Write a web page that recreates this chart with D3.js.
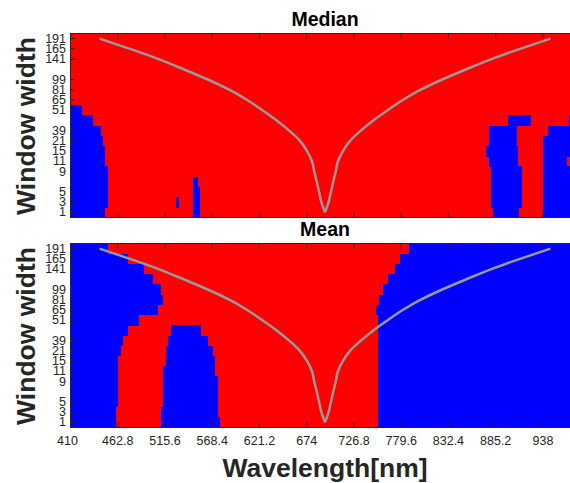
<!DOCTYPE html>
<html>
<head>
<meta charset="utf-8">
<script src="https://cdn.jsdelivr.net/npm/d3@7/dist/d3.min.js"></script>
<style>
  html, body { margin: 0; padding: 0; background: #fff; }
  svg { display: block; }
  text { font-family: "Liberation Sans", Arial, Helvetica, sans-serif; }
</style>
</head>
<body>
<svg id="chart" width="570" height="483"></svg>
<script>
// ---------------- data ----------------
const wavelengthTicks = [410, 462.8, 515.6, 568.4, 621.2, 674, 726.8, 779.6, 832.4, 885.2, 938];
const wavelengthDomain = [410, 980];
// rows from bottom (index 0) to top (index 17); "" = row without a tick
const rowLabels = ["1","3","5","","9","11","15","21","39","","51","65","81","99","","141","165","191"];
const panelTitles = ["Median", "Mean"];

// Blue intervals [from nm, to nm] for each row (index 0 = bottom row); the rest is red
const medianBlue = [
  [[410,449.1],[547.4,554.9],[883,911.7],[938.9,980]],
  [[410,452.1],[528.5,531.5],[547.4,554.9],[880.5,914.7],[938.9,980]],
  [[410,452.1],[547.4,554.9],[880.5,914.7],[938.9,980]],
  [[410,452.1],[547.4,552.7],[880.5,914.7],[938.9,980]],
  [[410,452.1],[880.5,914.7],[938.9,980]],
  [[410,449.1],[878.2,911],[938.9,965]],
  [[410,449.1],[874.9,911],[938.9,980]],
  [[410,446.5],[878.2,909.2],[938.9,980]],
  [[410,444.3],[878.2,909.2],[943.8,980]],
  [[410,436],[899.1,925.1],[967.6,980]],
  [[410,423.1]],
  [], [], [], [], [], [], []
];
const meanBlue = [
  [[410,461.4],[511.7,577.6],[754.5,980]],
  [[410,461.4],[511.7,575],[754.5,980]],
  [[410,464],[514.3,575],[754.5,980]],
  [[410,464],[514.3,575],[754.5,980]],
  [[410,464],[514.3,575],[754.5,980]],
  [[410,464],[514.3,572.4],[754.5,980]],
  [[410,464],[516.9,572.4],[754.5,980]],
  [[410,466.7],[516.9,570.1],[754.5,980]],
  [[410,469.2],[519.5,564.5],[754.5,980]],
  [[410,474.5],[522.5,556.4],[754.5,980]],
  [[410,487.4],[754.5,980]],
  [[410,508.7],[752,980]],
  [[410,513.6],[755,980]],
  [[410,511.4],[760.1,980]],
  [[410,503.1],[765.3,980]],
  [[410,492.7],[773.5,980]],
  [[410,474.5],[778.8,980]],
  [[410,452.8],[789.2,980]]
];
// Gray V curve: centre wavelength and half width (nm) at each row
const curveCenter = 695;
const curveHalfWidth = [0, 4, 6.6, 9.2, 12, 14.5, 20, 28, 40, 54, 70, 87, 107, 131, 158, 186, 218, 252];

// ---------------- layout ----------------
const RED = "#ff0000", BLUE = "#0000ff", GRAY = "#999999", INK = "#262626";
const left = 70, right = 580, panelH = 184;
const panelTops = [33.5, 243.5];

const svg = d3.select("#chart");
const x = d3.scaleLinear().domain(wavelengthDomain).range([left, right]);
const rows = d3.range(rowLabels.length);
const tickRows = rows.filter(i => rowLabels[i] !== "");

[medianBlue, meanBlue].forEach((blue, p) => {
  const top = panelTops[p];
  const y = d3.scaleBand().domain(rows).range([top + panelH, top]).padding(0);
  const g = svg.append("g");

  // red background per row
  g.append("g").selectAll("rect").data(rows).join("rect")
    .attr("x", x(wavelengthDomain[0]))
    .attr("width", x(wavelengthDomain[1]) - x(wavelengthDomain[0]))
    .attr("y", r => y(r))
    .attr("height", y.bandwidth() + 0.4)
    .attr("fill", RED)
    .attr("shape-rendering", "crispEdges");

  // blue intervals
  const cells = [];
  blue.forEach((ints, r) => ints.forEach(iv => cells.push({ r, a: iv[0], b: iv[1] })));
  g.append("g").selectAll("rect").data(cells).join("rect")
    .attr("x", d => x(d.a))
    .attr("width", d => x(d.b) - x(d.a))
    .attr("y", d => y(d.r))
    .attr("height", y.bandwidth() + 0.4)
    .attr("fill", BLUE)
    .attr("shape-rendering", "crispEdges");

  // gray curve: two smooth halves meeting at the bottom point
  const leftPts = rows.map(r => [curveCenter - curveHalfWidth[r], r]);
  const rightPts = rows.map(r => [curveCenter + curveHalfWidth[r], r]);
  const line = d3.line()
    .x(d => x(d[0]))
    .y(d => y(d[1]) + y.bandwidth() / 2)
    .curve(d3.curveMonotoneY);
  [leftPts, rightPts].forEach(pts => {
    g.append("path").datum(pts)
      .attr("d", line)
      .attr("fill", "none")
      .attr("stroke", GRAY)
      .attr("stroke-width", 2.5)
      .attr("stroke-linejoin", "round");
  });

  // axes (inward ticks)
  const xb = d3.axisBottom(x).tickValues(wavelengthTicks).tickSize(-5).tickPadding(8.6)
    .tickFormat(p === 1 ? (d => String(d)) : () => "");
  const gxb = g.append("g").attr("transform", `translate(0,${top + panelH})`).call(xb);
  const xt = d3.axisTop(x).tickValues(wavelengthTicks).tickSize(-5).tickFormat(() => "");
  const gxt = g.append("g").attr("transform", `translate(0,${top})`).call(xt);
  const ya = d3.axisLeft(y).tickValues(tickRows).tickSize(-5).tickPadding(4)
    .tickFormat(i => rowLabels[i]);
  const gy = g.append("g").attr("transform", `translate(${left},0)`).call(ya);

  [gxb, gxt, gy].forEach(a => {
    a.select(".domain").remove();
    a.selectAll(".tick line").attr("stroke", INK).attr("stroke-width", 1);
    a.selectAll(".tick text").attr("fill", INK).style("font-size", "12.5px")
      .style("font-family", '"Liberation Sans", Arial, sans-serif');
  });
  if (p === 1) {
    gxb.selectAll(".tick text").filter(d => d === wavelengthTicks[0]).attr("dx", "-3");
  }

  // frame
  g.append("rect")
    .attr("x", left).attr("y", top)
    .attr("width", right - left).attr("height", panelH)
    .attr("fill", "none").attr("stroke", INK).attr("stroke-width", 1)
    .attr("shape-rendering", "crispEdges");

  // title
  svg.append("text")
    .attr("x", (left + right) / 2).attr("y", top - 8)
    .attr("text-anchor", "middle")
    .style("font-size", "19.5px").style("font-weight", "bold").attr("fill", "#000")
    .text(panelTitles[p]);

  // y label
  svg.append("text")
    .attr("transform", `translate(35,${top + panelH / 2 + 0.5}) rotate(-90)`)
    .attr("text-anchor", "middle")
    .style("font-size", "26.5px").style("font-weight", "bold").attr("fill", INK)
    .text("Window width");
});

// x label
svg.append("text")
  .attr("x", (left + right) / 2).attr("y", 476.5)
  .attr("text-anchor", "middle")
  .style("font-size", "26.5px").style("font-weight", "bold").attr("fill", INK)
  .text("Wavelength[nm]");
</script>
</body>
</html>
